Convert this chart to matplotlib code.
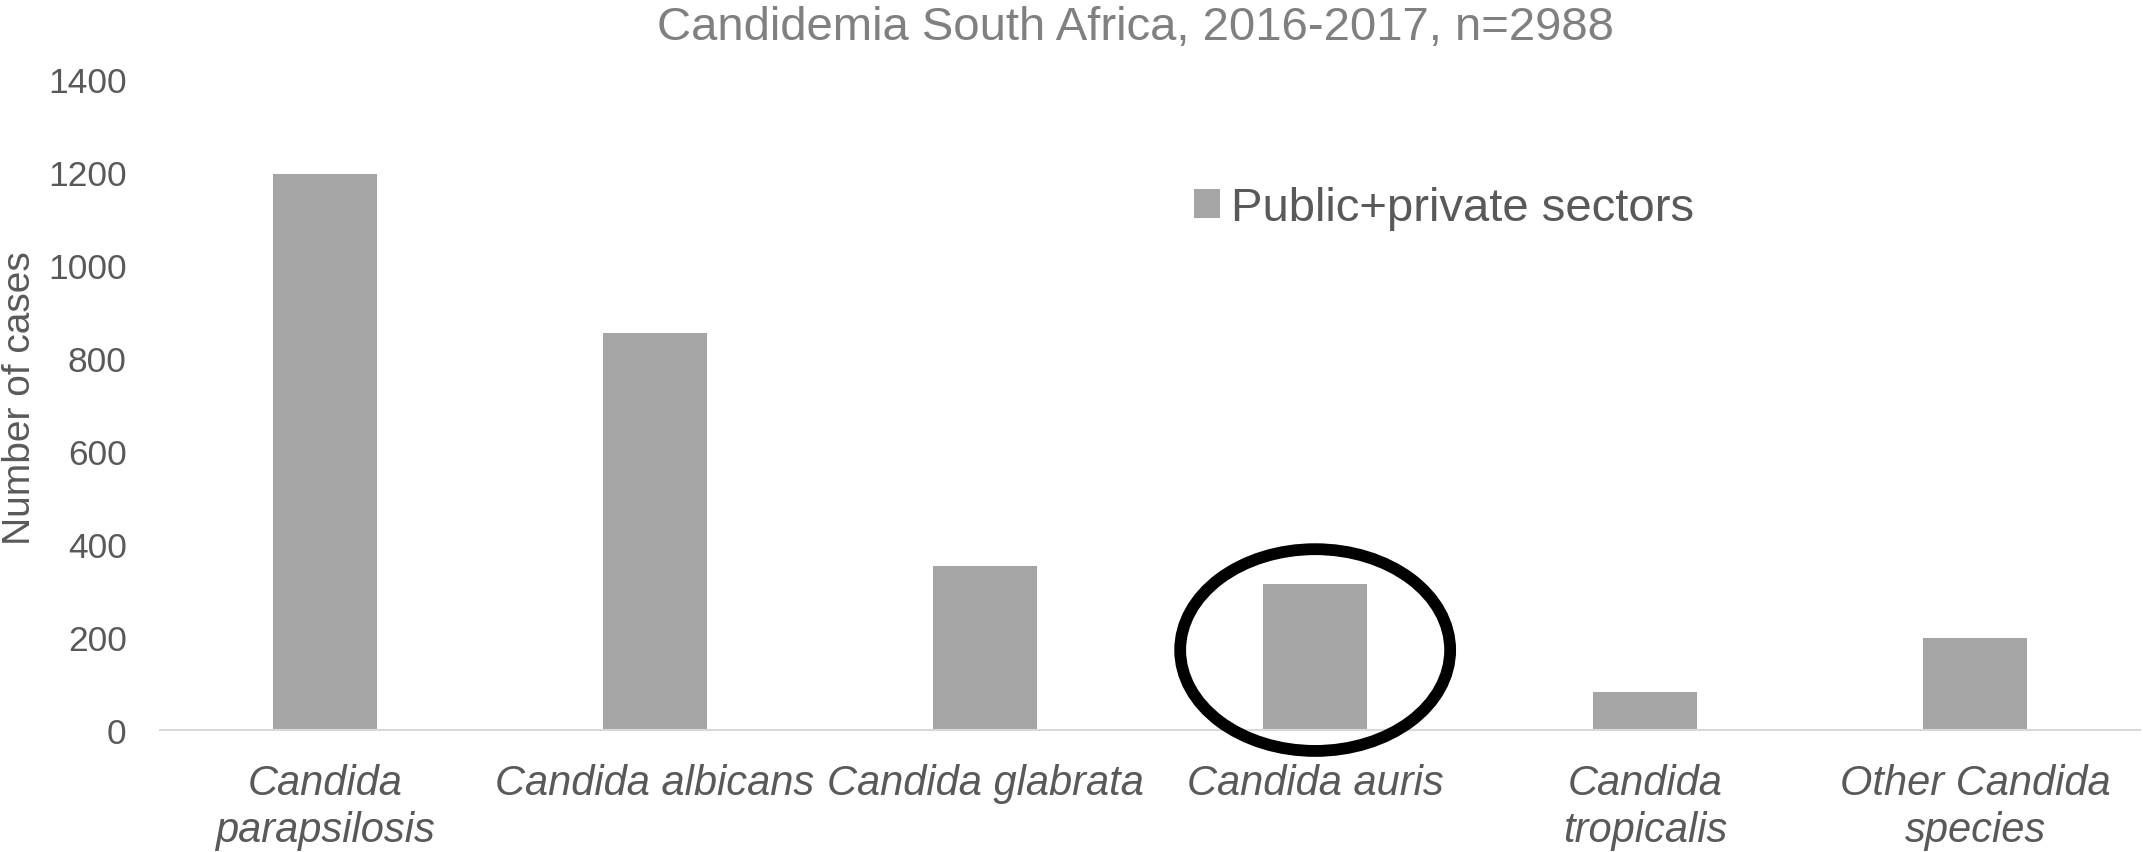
import matplotlib.pyplot as plt
from matplotlib.patches import Ellipse

plt.rcParams['font.family'] = ['Liberation Sans', 'DejaVu Sans']

species = ['Candida\nparapsilosis', 'Candida albicans', 'Candida glabrata',
           'Candida auris', 'Candida\ntropicalis', 'Other Candida\nspecies']
cases = [1197, 855, 353, 314, 82, 198]
y_ticks = [0, 200, 400, 600, 800, 1000, 1200, 1400]

bar_color = '#a5a5a5'
text_color = '#595959'

fig = plt.figure(figsize=(21.43, 8.53), dpi=100)
ax = fig.add_axes([0.0747, 0.143, 0.924, 0.763])

x = range(len(species))
ax.bar(x, cases, width=0.315, color=bar_color, label='Public+private sectors')

ax.set_xlim(-0.5, len(species) - 0.5)
ax.set_ylim(0, 1400)
ax.set_yticks(y_ticks)
ax.set_xticks(list(x))
ax.set_xticklabels(species, fontstyle='italic', fontsize=30, color=text_color,
                   linespacing=1.2)
ax.tick_params(axis='x', length=0, pad=24)
ax.tick_params(axis='y', length=0, pad=24, labelsize=25.5, labelcolor=text_color)

for side in ['left', 'right', 'top']:
    ax.spines[side].set_visible(False)
ax.spines['bottom'].set_color('#d9d9d9')
ax.spines['bottom'].set_linewidth(1.5)

# circle around C. auris
ring = Ellipse((3, 172), width=0.818, height=434, fill=False,
               edgecolor='black', linewidth=8.5, clip_on=False, zorder=5)
ax.add_patch(ring)

ax.legend(loc='center left', bbox_to_anchor=(0.557, 0.755),
          bbox_transform=fig.transFigure, frameon=False, fontsize=34,
          handlelength=0.55, handleheight=0.55, handletextpad=0.25,
          borderpad=0, borderaxespad=0, labelcolor=text_color)

fig.text(0.530, 0.967, 'Candidemia South Africa, 2016-2017, n=2988',
         ha='center', va='center', fontsize=34, color='#808080')
fig.text(0.0093, 0.533, 'Number of cases', rotation=90, ha='center',
         va='center', fontsize=28, color=text_color)

fig.savefig('out.png', dpi=100)
